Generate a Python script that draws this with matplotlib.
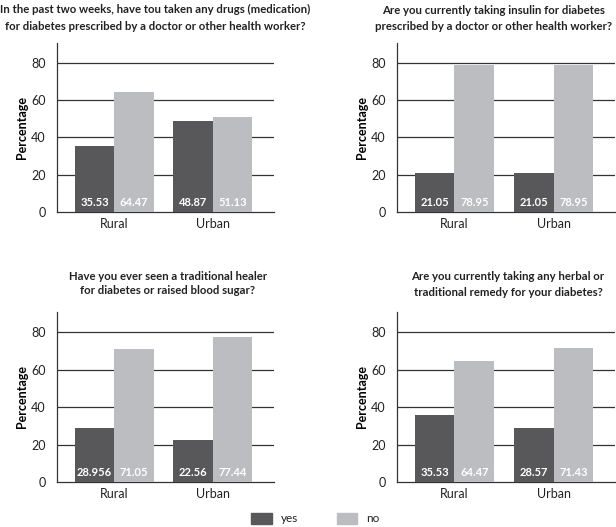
import matplotlib
matplotlib.use('Agg')
import matplotlib.pyplot as plt
import numpy as np

plt.rcParams['font.family'] = ['Lato', 'DejaVu Sans']

categories = ['Rural', 'Urban']
titles = [
    ['In the past two weeks, have tou taken any drugs (medication)',
     'for diabetes prescribed by a doctor or other health worker?'],
    ['Are you currently taking insulin for diabetes',
     'prescribed by a doctor or other health worker?'],
    ['Have you ever seen a traditional healer',
     'for diabetes or raised blood sugar?'],
    ['Are you currently taking any herbal or',
     'traditional remedy for your diabetes?'],
]
yes_vals = [[35.53, 48.87], [21.05, 21.05], [28.956, 22.56], [35.53, 28.57]]
no_vals = [[64.47, 51.13], [78.95, 78.95], [71.05, 77.44], [64.47, 71.43]]
yes_labels = [['35.53', '48.87'], ['21.05', '21.05'], ['28.956', '22.56'], ['35.53', '28.57']]
no_labels = [['64.47', '51.13'], ['78.95', '78.95'], ['71.05', '77.44'], ['64.47', '71.43']]

dark = '#58585a'
light = '#bcbdc0'

W, H = 616, 527
fig = plt.figure(figsize=(W / 100, H / 100), dpi=100)

# axes boxes in pixels: left, top, right, bottom
boxes = [(57, 43, 274, 212), (397, 43, 615, 212),
         (57, 312, 274, 482), (397, 312, 615, 482)]
# title line centres in pixels
title_pos = [(155, 9, 26), (494, 11, 27), (168, 276, 291), (508, 277, 293)]

x = np.arange(len(categories))
w = 0.4
for k in range(4):
    l, t, r, b = boxes[k]
    ax = fig.add_axes([l / W, 1 - b / H, (r - l) / W, (b - t) / H])
    ax.bar(x - w / 2, yes_vals[k], w, color=dark, zorder=3)
    ax.bar(x + w / 2, no_vals[k], w, color=light, zorder=3)
    for i in range(len(categories)):
        ax.text(x[i] - w / 2, 5, yes_labels[k][i], color='white', ha='center',
                va='center', fontsize=8, fontweight='bold', zorder=4)
        ax.text(x[i] + w / 2, 5, no_labels[k][i], color='white', ha='center',
                va='center', fontsize=8, fontweight='bold', zorder=4)
    ax.set_xlim(-0.58, 1.62)
    ax.set_ylim(0, 90.7)
    ax.set_yticks([0, 20, 40, 60, 80])
    ax.set_xticks(x)
    ax.set_xticklabels(categories, fontsize=9)
    ax.tick_params(axis='both', length=0, labelsize=9, colors='#222222')
    ax.tick_params(axis='y', pad=8)
    ax.tick_params(axis='x', pad=4)
    for yv in [20, 40, 60, 80]:
        ax.axhline(yv, color='#333333', lw=0.9, zorder=1)
    for s in ['top', 'right']:
        ax.spines[s].set_visible(False)
    for s in ['left', 'bottom']:
        ax.spines[s].set_color('#333333')
        ax.spines[s].set_linewidth(0.9)
    ax.set_ylabel('Percentage', fontsize=9, fontweight='bold', labelpad=2)
    cx, y1, y2 = title_pos[k]
    fig.text(cx / W, 1 - y1 / H, titles[k][0], ha='center', va='center',
             fontsize=8.2, fontweight='bold', color='#222222')
    fig.text(cx / W, 1 - y2 / H, titles[k][1], ha='center', va='center',
             fontsize=8.2, fontweight='bold', color='#222222')

# legend
fig.patches.append(plt.Rectangle((251 / W, 1 - 524 / H), 21 / W, 11 / H,
                                 transform=fig.transFigure, color=dark))
fig.text(281 / W, 1 - 518.5 / H, 'yes', ha='left', va='center', fontsize=8.5, color='#222222')
fig.patches.append(plt.Rectangle((337 / W, 1 - 524 / H), 20 / W, 11 / H,
                                 transform=fig.transFigure, color=light))
fig.text(366 / W, 1 - 518.5 / H, 'no', ha='left', va='center', fontsize=8.5, color='#222222')

fig.savefig('out.png', dpi=100)
